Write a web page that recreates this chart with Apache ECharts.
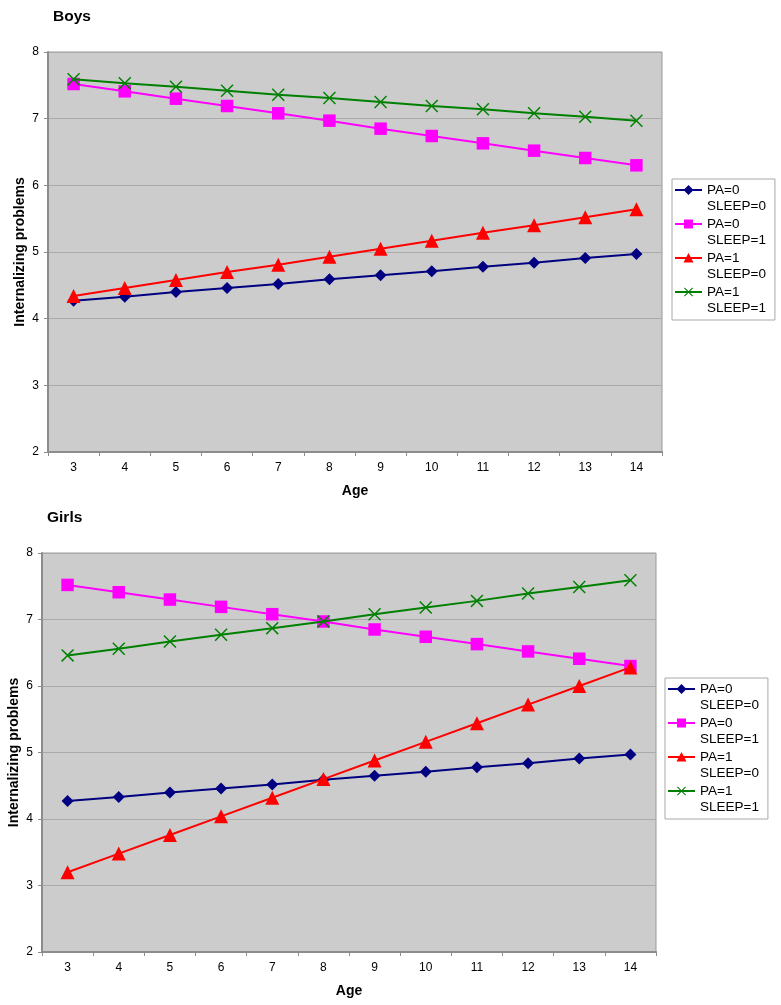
<!DOCTYPE html>
<html>
<head>
<meta charset="utf-8">
<script src="https://cdn.jsdelivr.net/npm/echarts@6/dist/echarts.min.js"></script>
<style>
html,body{margin:0;padding:0;background:#fff;}
#chart{width:781px;height:1005px;}
</style>
</head>
<body>
<div id="chart"></div>
<script>
// ---- data ----
const ages = ['3','4','5','6','7','8','9','10','11','12','13','14'];
const seriesNames = ['PA=0 SLEEP=0','PA=0 SLEEP=1','PA=1 SLEEP=0','PA=1 SLEEP=1'];
const boysPA0S0 = [4.27, 4.33, 4.40, 4.46, 4.52, 4.59, 4.65, 4.71, 4.78, 4.84, 4.91, 4.97];
const boysPA0S1 = [7.52, 7.41, 7.30, 7.19, 7.08, 6.97, 6.85, 6.74, 6.63, 6.52, 6.41, 6.30];
const boysPA1S0 = [4.34, 4.46, 4.58, 4.70, 4.81, 4.93, 5.05, 5.17, 5.29, 5.40, 5.52, 5.64];
const boysPA1S1 = [7.59, 7.53, 7.48, 7.42, 7.36, 7.31, 7.25, 7.19, 7.14, 7.08, 7.03, 6.97];
const girlsPA0S0 = [4.27, 4.33, 4.40, 4.46, 4.52, 4.59, 4.65, 4.71, 4.78, 4.84, 4.91, 4.97];
const girlsPA0S1 = [7.52, 7.41, 7.30, 7.19, 7.08, 6.97, 6.85, 6.74, 6.63, 6.52, 6.41, 6.30];
const girlsPA1S0 = [3.20, 3.48, 3.76, 4.04, 4.32, 4.60, 4.88, 5.16, 5.44, 5.72, 6.00, 6.28];
const girlsPA1S1 = [6.46, 6.56, 6.67, 6.77, 6.87, 6.97, 7.08, 7.18, 7.28, 7.39, 7.49, 7.59];
const yMin = 2, yMax = 8, yStep = 1;

// ---- styling ----
const FONT = '"Liberation Sans", Arial, Helvetica, sans-serif';
const colors = ['#000080', '#ff00ff', '#ff0000', '#008000'];

function poly(pts, ox, oy, s) {
  return 'M' + pts.map(p => (ox + p[0] * s).toFixed(2) + ',' + (oy + p[1] * s).toFixed(2)).join(' L') + ' Z';
}
const xShape = [[0,0.8],[0.8,0],[5,4.2],[9.2,0],[10,0.8],[5.8,5],[10,9.2],[9.2,10],[5,5.8],[0.8,10],[0,9.2],[4.2,5]];
const xSymbol = 'path://' + poly(xShape, 0, 0, 1);

// legend icons: 27 x 32 box, line + marker aligned with first text line (y = 8)
const IW = 27, IH = 32, CY = 8;
const bounds = ' M0,0 L0.01,0 L0,0.01 Z M' + IW + ',' + IH + ' L' + (IW - 0.01) + ',' + IH + ' L' + IW + ',' + (IH - 0.01) + ' Z';
const lineRect = 'M0,' + (CY - 1) + ' L' + IW + ',' + (CY - 1) + ' L' + IW + ',' + (CY + 1) + ' L0,' + (CY + 1) + ' Z ';
const cx = IW / 2;
const legendIcons = [
  'path://' + lineRect + 'M' + cx + ',' + (CY - 5) + ' L' + (cx + 5) + ',' + CY + ' L' + cx + ',' + (CY + 5) + ' L' + (cx - 5) + ',' + CY + ' Z' + bounds,
  'path://' + lineRect + 'M' + (cx - 4.5) + ',' + (CY - 4.5) + ' L' + (cx + 4.5) + ',' + (CY - 4.5) + ' L' + (cx + 4.5) + ',' + (CY + 4.5) + ' L' + (cx - 4.5) + ',' + (CY + 4.5) + ' Z' + bounds,
  'path://' + lineRect + 'M' + cx + ',' + (CY - 5) + ' L' + (cx + 5) + ',' + (CY + 4.5) + ' L' + (cx - 5) + ',' + (CY + 4.5) + ' Z' + bounds,
  'path://' + lineRect + poly(xShape, cx - 4.5, CY - 4.5, 0.9) + bounds
];
const symbols = ['diamond', 'rect', 'triangle', xSymbol];
const symbolSizes = [12, 12.5, 14, 13];

const grids = [
  { left: 48, top: 52, width: 614, height: 400 },
  { left: 42, top: 553, width: 614, height: 399 }
];

function makeLegend(left, top) {
  return {
    left: left, top: top, orient: 'vertical',
    padding: [3, 9, 4, 3],
    itemWidth: IW, itemHeight: IH, itemGap: 2,
    backgroundColor: '#ffffff', borderColor: '#a8a8a8', borderWidth: 1,
    selectedMode: false,
    itemStyle: { borderWidth: 0 },
    textStyle: { fontFamily: FONT, fontSize: 13.5, lineHeight: 16, color: '#000' },
    formatter: n => n.replace(' ', '\n'),
    data: seriesNames.map((n, i) => ({ name: n, icon: legendIcons[i] }))
  };
}

function makeX(gi) {
  return {
    type: 'category', gridIndex: gi, data: ages, boundaryGap: true,
    name: 'Age', nameLocation: 'middle', nameGap: 32, nameMoveOverlap: false,
    nameTextStyle: { fontFamily: FONT, fontSize: 14, fontWeight: 'bold', color: '#000' },
    axisLine: { show: true, lineStyle: { color: '#8c8c8c', width: 2 } },
    axisTick: { show: true, length: 4, alignWithLabel: false, lineStyle: { color: '#8c8c8c' } },
    axisLabel: { fontFamily: FONT, fontSize: 12, color: '#000', margin: 10 },
    splitLine: { show: false }
  };
}
function makeY(gi) {
  return {
    type: 'value', gridIndex: gi, min: yMin, max: yMax, interval: yStep,
    name: 'Internalizing problems', nameLocation: 'middle', nameGap: 21, nameMoveOverlap: false,
    nameTextStyle: { fontFamily: FONT, fontSize: 14, fontWeight: 'bold', color: '#000' },
    axisLine: { show: true, lineStyle: { color: '#8c8c8c', width: 2 } },
    axisTick: { show: true, length: 4, lineStyle: { color: '#8c8c8c' } },
    axisLabel: { fontFamily: FONT, fontSize: 12, color: '#000', margin: 9 },
    splitLine: { show: true, lineStyle: { color: '#aaaaaa', width: 1 } }
  };
}

const dataSets = [
  [boysPA0S0, boysPA0S1, boysPA1S0, boysPA1S1],
  [girlsPA0S0, girlsPA0S1, girlsPA1S0, girlsPA1S1]
];
const series = [];
dataSets.forEach((set, gi) => {
  set.forEach((vals, si) => {
    series.push({
      type: 'line', name: seriesNames[si],
      xAxisIndex: gi, yAxisIndex: gi,
      data: vals,
      symbol: symbols[si], symbolSize: symbolSizes[si],
      showSymbol: true, showAllSymbol: true,
      lineStyle: { color: colors[si], width: 2 },
      itemStyle: { color: colors[si], borderWidth: 0 },
      emphasis: { disabled: true },
      z: 2 + si
    });
  });
});

const chart = echarts.init(document.getElementById('chart'), null, { renderer: 'canvas' });
chart.setOption({
  animation: false,
  backgroundColor: '#ffffff',
  title: [
    { text: 'Boys', left: 53, top: 9, padding: 0, textStyle: { fontFamily: FONT, fontSize: 15.5, fontWeight: 'bold', color: '#000' } },
    { text: 'Girls', left: 47, top: 510, padding: 0, textStyle: { fontFamily: FONT, fontSize: 15.5, fontWeight: 'bold', color: '#000' } }
  ],
  legend: [makeLegend(672, 179), makeLegend(665, 678)],
  grid: grids.map(g => Object.assign({ show: true, outerBoundsMode: 'none', containLabel: false, backgroundColor: '#cccccc', borderColor: '#9a9a9a', borderWidth: 1 }, g)),
  xAxis: [makeX(0), makeX(1)],
  yAxis: [makeY(0), makeY(1)],
  series: series
});
</script>
</body>
</html>
